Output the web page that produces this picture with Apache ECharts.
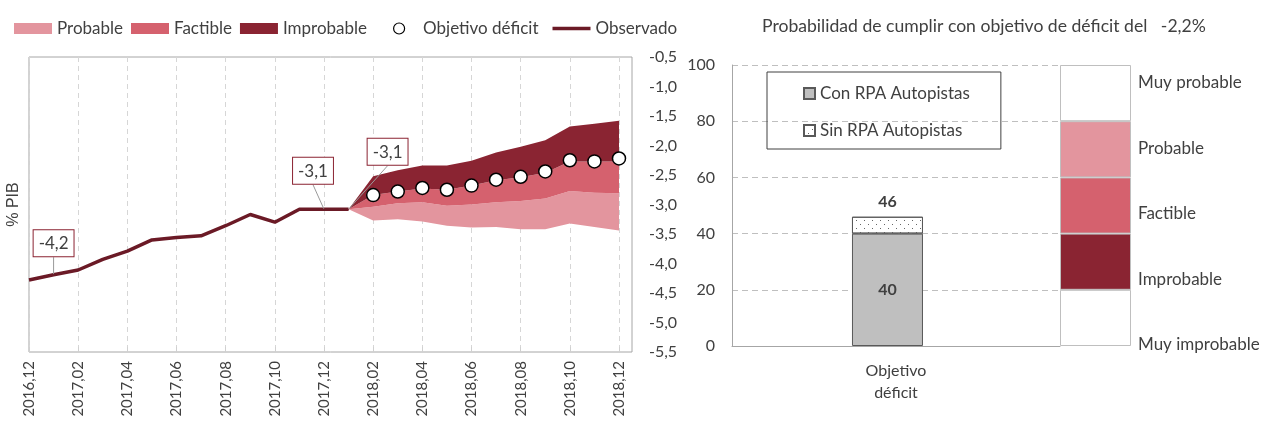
<!DOCTYPE html>
<html>

<head>
    <meta charset="utf-8">
    <title>Déficit</title>
    <style>
        body {
            margin: 0;
            background: #fff;
        }

        #main {
            width: 1263px;
            height: 425px;
        }
    </style>
</head>

<body>
    <div id="main"></div>
    <script src="https://cdn.jsdelivr.net/npm/echarts@6/dist/echarts.min.js"></script>
    <script type="text/javascript">
        // meses del eje (grafico izquierdo)
        var months = ['2016,12', '2017,01', '2017,02', '2017,03', '2017,04', '2017,05', '2017,06',
            '2017,07', '2017,08', '2017,09', '2017,10', '2017,11', '2017,12', '2018,01', '2018,02',
            '2018,03', '2018,04', '2018,05', '2018,06', '2018,07', '2018,08', '2018,09', '2018,10',
            '2018,11', '2018,12'];

        // observado: 2016,12 .. 2018,01
        var observado = [-4.28, -4.19, -4.11, -3.93, -3.79, -3.60, -3.56, -3.53, -3.36, -3.17, -3.30, -3.08, -3.08, -3.08];

        // abanico: 2018,01 .. 2018,12
        var fanStart = 13;
        var bandaBase = [-3.08, -3.27, -3.25, -3.29, -3.36, -3.39, -3.38, -3.42, -3.42, -3.32, -3.38, -3.44];
        var bandaProbable = [-3.08, -3.04, -2.98, -2.96, -3.02, -3.00, -2.96, -2.94, -2.90, -2.77, -2.80, -2.81];
        var bandaFactible = [-3.08, -2.84, -2.78, -2.73, -2.75, -2.68, -2.59, -2.54, -2.46, -2.27, -2.27, -2.27];
        var bandaImprobable = [-3.08, -2.52, -2.42, -2.34, -2.34, -2.26, -2.12, -2.02, -1.91, -1.68, -1.63, -1.58];

        // objetivo de deficit: 2018,02 .. 2018,12
        var objStart = 14;
        var objetivo = [-2.84, -2.78, -2.72, -2.75, -2.68, -2.58, -2.53, -2.44, -2.25, -2.27, -2.22];

        // grafico derecho
        var metaTexto = '-2,2%';
        var barCats = ['Objetivo\ndéficit'];
        var conRPA = [40];
        var sinRPA = [6];
        var niveles = ['Muy improbable', 'Improbable', 'Factible', 'Probable', 'Muy probable'];
        var nivelesVal = [20, 20, 20, 20, 20];

        var colores = {
            probable: '#E3959E',
            factible: '#D5616E',
            improbable: '#8A2432',
            observado: '#6B1A26'
        };
        var nivelesColor = ['#ffffff', colores.improbable, colores.factible, colores.probable, '#ffffff'];
        var textColor = '#404040';

        function coma(v) {
            return v.toFixed(1).replace('.', ',');
        }

        // rellena con '-' hasta el mes de inicio
        function pad(arr, start) {
            return months.map(function (m, i) {
                return i >= start && i - start < arr.length ? arr[i - start] : '-';
            });
        }

        function diff(top, low) {
            return pad(top.map(function (v, i) { return +(v - low[i]).toFixed(3); }), fanStart);
        }

        // etiquetas del observado (desplazamiento dx, dy)
        var etiquetas = { 1: [0, -13], 12: [-11, -20], 13: [39, -39] };
        var obsData = observado.map(function (v, i) {
            var item = { value: v };
            if (etiquetas[i]) {
                item.symbol = 'circle';
                item.symbolSize = 1;
                item.label = {
                    show: true,
                    formatter: coma(v),
                    fontSize: 17,
                    color: textColor,
                    backgroundColor: '#fff',
                    borderColor: '#8B2332',
                    borderWidth: 1,
                    padding: [5, 5, 4, 5]
                };
            }
            return item;
        });

        function banda(name, top, low, color) {
            return {
                name: name,
                type: 'line',
                stack: 'fan',
                stackStrategy: 'all',
                data: diff(top, low),
                symbol: 'none',
                lineStyle: { width: 0, color: color },
                itemStyle: { color: color },
                areaStyle: { color: color, opacity: 1 },
                silent: true
            };
        }

        var series = [
            {
                name: 'base',
                type: 'line',
                stack: 'fan',
                stackStrategy: 'all',
                data: pad(bandaBase, fanStart),
                symbol: 'none',
                lineStyle: { width: 0 },
                silent: true
            },
            banda('Probable', bandaProbable, bandaBase, colores.probable),
            banda('Factible', bandaFactible, bandaProbable, colores.factible),
            banda('Improbable', bandaImprobable, bandaFactible, colores.improbable),
            {
                name: 'Observado',
                type: 'line',
                data: obsData,
                symbol: 'none',
                lineStyle: { color: colores.observado, width: 3.5 },
                itemStyle: { color: colores.observado },
                labelLine: { show: true, lineStyle: { color: '#9a9a9a', width: 1 } },
                labelLayout: function (p) {
                    var o = etiquetas[p.dataIndex];
                    return o ? { dx: o[0], dy: o[1] } : {};
                },
                z: 4
            },
            {
                name: 'Objetivo déficit',
                type: 'scatter',
                data: pad(objetivo, objStart),
                symbolSize: 13,
                itemStyle: { color: '#fff', borderColor: '#000', borderWidth: 1.5, opacity: 1 },
                z: 5
            },
            // grafico derecho
            {
                name: 'Con RPA Autopistas',
                type: 'bar',
                xAxisIndex: 1,
                yAxisIndex: 2,
                stack: 'obj',
                barWidth: 71,
                data: conRPA,
                itemStyle: { color: '#BFBFBF', borderColor: '#595959', borderWidth: 1 },
                label: { show: true, position: 'inside', fontSize: 16, fontWeight: 'bold', color: textColor }
            },
            {
                name: 'Sin RPA Autopistas',
                type: 'bar',
                xAxisIndex: 1,
                yAxisIndex: 2,
                stack: 'obj',
                barWidth: 71,
                data: sinRPA,
                itemStyle: {
                    color: '#fff',
                    borderColor: '#595959',
                    borderWidth: 1,
                    decal: {
                        symbol: 'rect',
                        symbolSize: 1,
                        color: '#666',
                        dashArrayX: [[1, 7], [0, 4, 1, 3]],
                        dashArrayY: [1, 3]
                    }
                },
                label: {
                    show: true,
                    position: 'top',
                    distance: 7,
                    fontSize: 16,
                    fontWeight: 'bold',
                    color: textColor,
                    formatter: function () { return conRPA[0] + sinRPA[0]; }
                }
            },
            {
                // columna vacia para correr la barra un poco a la izquierda
                name: 'pad',
                type: 'bar',
                xAxisIndex: 1,
                yAxisIndex: 2,
                stack: 'pad',
                barWidth: 71,
                barGap: '-76%',
                data: ['-'],
                silent: true
            }
        ];

        niveles.forEach(function (n, i) {
            series.push({
                name: n,
                type: 'bar',
                xAxisIndex: 2,
                yAxisIndex: 3,
                stack: 'col',
                barWidth: 71,
                data: [nivelesVal[i]],
                itemStyle: { color: nivelesColor[i], borderColor: '#BFBFBF', borderWidth: 1 },
                silent: true
            });
        });

        var legendBase = {
            top: 15,
            itemWidth: 38,
            itemHeight: 11,
            itemGap: 8,
            textStyle: { fontSize: 17, color: textColor }
        };

        var option = {
            animation: false,
            textStyle: { fontFamily: 'Lato', color: textColor },
            title: {
                text: 'Probabilidad de cumplir con objetivo de déficit del   ' + metaTexto,
                left: 757,
                top: 12,
                textStyle: { fontSize: 17.6, fontWeight: 'normal', color: textColor, fontFamily: 'Lato' }
            },
            legend: [
                echarts.util.merge({
                    left: 9,
                    data: [
                        { name: 'Probable', icon: 'rect' },
                        { name: 'Factible', icon: 'rect' },
                        { name: 'Improbable', icon: 'rect' }
                    ]
                }, legendBase),
                echarts.util.merge({
                    left: 388,
                    itemGap: 14,
                    data: [
                        { name: 'Objetivo déficit', icon: 'circle', itemStyle: { borderWidth: 1.2 } },
                        { name: 'Observado', icon: 'path://M0,0L36,0L36,3.5L0,3.5Z' }
                    ]
                }, legendBase),
                {
                    orient: 'vertical',
                    left: 767,
                    top: 72,
                    borderColor: '#404040',
                    borderWidth: 1,
                    padding: [13, 31, 10, 36],
                    itemWidth: 11,
                    itemHeight: 11,
                    itemGap: 20,
                    textStyle: { fontSize: 17, color: textColor },
                    data: [
                        { name: 'Con RPA Autopistas', icon: 'rect' },
                        { name: 'Sin RPA Autopistas', icon: 'rect' }
                    ]
                }
            ],
            grid: [
                { left: 29, top: 57, width: 590, height: 295 },
                { left: 732, top: 65, width: 328, height: 281 },
                { left: 1060, top: 65, width: 71, height: 281 },
                { left: 1100, top: 83, width: 31, height: 262 },
                { left: 29, top: 57, width: 603, height: 295, show: true, borderColor: '#A6A6A6', borderWidth: 1 }
            ],
            xAxis: [
                {
                    type: 'category',
                    gridIndex: 0,
                    data: months,
                    boundaryGap: false,
                    axisLine: { show: false },
                    axisTick: { show: true, inside: true, length: 5, interval: 1, lineStyle: { color: '#D0D0D0' } },
                    splitLine: { show: true, interval: 1, lineStyle: { color: '#D6D6D6', type: [5, 4] } },
                    axisLabel: { interval: 1, rotate: 90, margin: 9, fontSize: 15, color: textColor }
                },
                {
                    type: 'category',
                    gridIndex: 1,
                    data: barCats,
                    axisLine: { show: true, lineStyle: { color: '#A6A6A6' } },
                    axisTick: { show: false },
                    axisLabel: { margin: 14, fontSize: 16, lineHeight: 22, color: textColor }
                },
                {
                    type: 'category',
                    gridIndex: 2,
                    data: [''],
                    show: false
                },
                { type: 'value', gridIndex: 3, show: false },
                { type: 'value', gridIndex: 4, show: false }
            ],
            yAxis: [
                {
                    type: 'value',
                    gridIndex: 0,
                    position: 'right',
                    min: -5.5,
                    max: -0.5,
                    interval: 0.5,
                    axisLine: { show: false },
                    axisTick: { show: false },
                    splitLine: { show: false },
                    axisLabel: { margin: 30, fontSize: 16, color: textColor, formatter: coma }
                },
                {
                    type: 'value',
                    gridIndex: 0,
                    position: 'left',
                    min: -5.5,
                    max: -0.5,
                    name: '% PIB',
                    nameLocation: 'middle',
                    nameGap: 7,
                    nameTextStyle: { fontSize: 16, color: textColor, fontFamily: 'Liberation Sans' },
                    axisLine: { show: false },
                    axisTick: { show: false },
                    splitLine: { show: false },
                    axisLabel: { show: false }
                },
                {
                    type: 'value',
                    gridIndex: 1,
                    min: 0,
                    max: 100,
                    interval: 20,
                    axisLine: { show: true, lineStyle: { color: '#A6A6A6' } },
                    axisTick: { show: false },
                    splitLine: { show: true, lineStyle: { color: '#BFBFBF', type: [6, 4] } },
                    axisLabel: { margin: 17, fontSize: 16, color: textColor }
                },
                {
                    type: 'value',
                    gridIndex: 2,
                    min: 0,
                    max: 100,
                    show: false
                },
                {
                    type: 'category',
                    gridIndex: 3,
                    position: 'right',
                    boundaryGap: false,
                    data: niveles,
                    axisLine: { show: false },
                    axisTick: { show: false },
                    splitLine: { show: false },
                    axisLabel: { margin: 7, fontSize: 17, color: textColor }
                },
                { type: 'value', gridIndex: 4, show: false }
            ],
            series: series
        };

        var myChart = echarts.init(document.getElementById('main'));
        myChart.setOption(option);
    </script>
</body>

</html>
